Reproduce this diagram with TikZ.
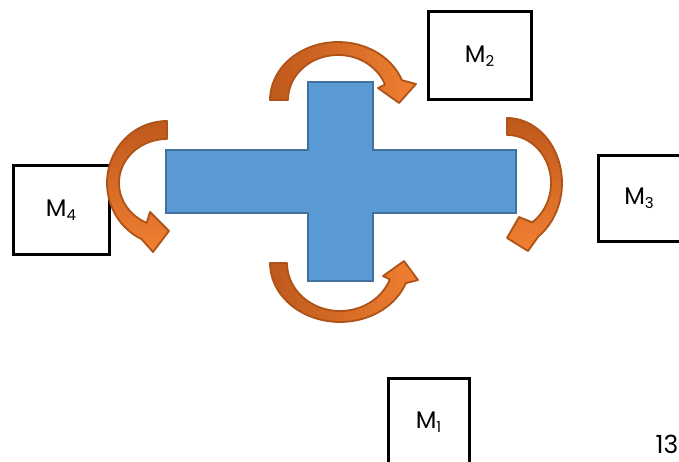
\documentclass[tikz,border=0pt]{standalone}
\usepackage{fontspec}
\setmainfont{Poppins}
\definecolor{crossfill}{RGB}{91,155,213}
\definecolor{crossline}{RGB}{65,113,156}
\definecolor{arrdark}{RGB}{190,88,28}
\definecolor{arrlight}{RGB}{240,128,50}
\definecolor{arrline}{RGB}{175,82,24}
\tikzset{
  mbox/.style={draw=black, line width=3pt, fill=white, inner sep=0pt,
    font=\fontsize{24}{24}\selectfont},
  carrow/.style={draw=arrline, line width=1.8pt, line join=round},
  crossshape/.style={draw=crossline, fill=crossfill, line width=2.5pt}
}
\newcommand{\msub}[1]{M\raisebox{-0.3ex}{\fontsize{15}{15}\selectfont #1}}
\begin{document}
\begin{tikzpicture}[x=1pt,y=-1pt]
\useasboundingbox (0,0) rectangle (679,462);
\clip (0,0) rectangle (679,462);
\fill[white] (0,0) rectangle (679,462);
% boxes
\node[mbox, minimum width=103pt, minimum height=88pt] (m2) at (479.5,56) {\msub{2}};
\node[mbox, minimum width=82pt, minimum height=85pt] (m3) at (639,198.5) {\msub{3}};
\node[mbox, minimum width=96pt, minimum height=88pt] (m4) at (61,210) {\msub{4}};
\node[mbox, minimum width=81pt, minimum height=88pt] (m1) at (428.5,422) {\msub{1}};
\node[font=\fontsize{25}{25}\selectfont, inner sep=0pt] (pg) at (667,444) {13};
% cross
\draw[crossshape] (308,82) -- (373,82) -- (373,150) -- (516,150) -- (516,213)
  -- (373,213) -- (373,281) -- (308,281) -- (308,213) -- (166,213)
  -- (166,150) -- (308,150) -- cycle;
% top arrow
\shadedraw[carrow, left color=arrdark, right color=arrlight]
  plot[domain=180:20, samples=40] ({338+68*cos(\x)},{100-58*sin(\x)})
  -- (416,84) -- (399,103) -- (378,88)
  -- plot[domain=20:180, samples=40] ({338+50*cos(\x)},{100-45*sin(\x)}) -- cycle;
% left arrow
\shadedraw[carrow, top color=arrdark, bottom color=arrlight]
  plot[domain=90:245, samples=40] ({167+60*cos(\x)},{183-62*sin(\x)})
  -- (153,252) -- (169,231) -- (150,212)
  -- plot[domain=245:90, samples=40] ({167+48*cos(\x)},{183-44*sin(\x)}) -- cycle;
% right arrow
\shadedraw[carrow, top color=arrdark, bottom color=arrlight]
  plot[domain=90:-55, samples=40] ({507+55*cos(\x)},{183-65*sin(\x)})
  -- (528,251) -- (507,238) -- (519,217)
  -- plot[domain=-55:90, samples=40] ({507+44*cos(\x)},{183-48*sin(\x)}) -- cycle;
% bottom arrow
\shadedraw[carrow, left color=arrdark, right color=arrlight]
  plot[domain=180:340, samples=40] ({340+70*cos(\x)},{263-59*sin(\x)})
  -- (418,280) -- (404,261) -- (383,276)
  -- plot[domain=340:180, samples=40] ({340+53*cos(\x)},{263-48*sin(\x)}) -- cycle;
\end{tikzpicture}
\end{document}
